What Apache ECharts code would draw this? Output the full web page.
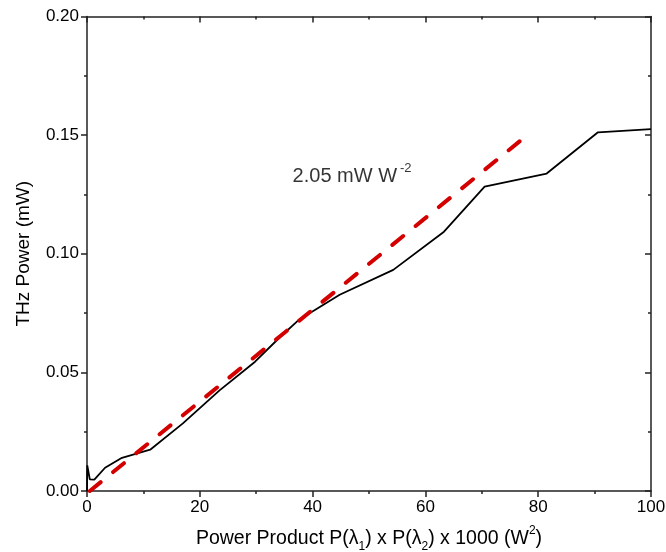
<!DOCTYPE html>
<html>
<head>
<meta charset="utf-8">
<script src="https://cdn.jsdelivr.net/npm/echarts@6/dist/echarts.min.js"></script>
<style>html,body{margin:0;padding:0;background:#fff}#c{width:666px;height:552px}</style>
</head>
<body>
<div id="c"></div>
<script>
// Measured THz power curve (x: power product x1000 W^2, y: THz power mW)
const measX = [0, 0.05, 0.5, 1.3, 3.2, 6.2, 11.2, 17.0, 23.5, 29.8, 34.2, 37.6, 44.8, 54.3, 63.3, 70.5, 81.5, 90.6, 100];
const measY = [0, 0.0108, 0.0049, 0.0048, 0.0098, 0.0140, 0.0174, 0.0285, 0.0424, 0.0545, 0.0648, 0.0722, 0.0827, 0.0932, 0.1093, 0.1283, 0.1338, 0.1512, 0.1525];
// Linear fit (dashed red)
const fitX = [0.5, 77.8];
const fitY = [0, 0.1495];
const xTicks = [0, 20, 40, 60, 80, 100];
const yTicks = [0.00, 0.05, 0.10, 0.15, 0.20];
const annotation = '2.05 mW W';
const annotationSup = '-2';
const annotationAt = [47.0, 0.1325];

const chart = echarts.init(document.getElementById('c'), null, {renderer: 'canvas'});
const font = 'Arial, "Liberation Sans", sans-serif';
const mkLine = () => ({show: true, onZero: false, lineStyle: {color: '#222', width: 1.5}});
const mkTick = (len) => ({show: true, inside: true, length: len, lineStyle: {color: '#222', width: 1.5}});
const mkMinor = (len) => ({show: true, splitNumber: 2, length: len, lineStyle: {color: '#222', width: 1.5}});

function xAx(pos, labels) {
  return {
    type: 'value', min: xTicks[0], max: xTicks[xTicks.length - 1], interval: 20,
    position: pos, show: true,
    axisLine: mkLine(), axisTick: mkTick(labels ? -6 : 6), minorTick: mkMinor(labels ? -3 : 3),
    splitLine: {show: false},
    axisLabel: labels ? {show: true, color: '#000', fontSize: 17, fontFamily: font, margin: 8} : {show: false}
  };
}
function yAx(pos, labels) {
  return {
    type: 'value', min: yTicks[0], max: yTicks[yTicks.length - 1], interval: 0.05,
    position: pos, show: true,
    axisLine: mkLine(), axisTick: mkTick(labels ? -6 : 6), minorTick: mkMinor(labels ? -3 : 3),
    splitLine: {show: false},
    axisLabel: labels ? {show: true, color: '#000', fontSize: 17, fontFamily: font, margin: 8,
      formatter: v => v.toFixed(2)} : {show: false}
  };
}

const xb = xAx('bottom', true);
Object.assign(xb, {
  name: '{n|Power Product P(λ}{s|1}{n|) x P(λ}{s|2}{n|) x 1000 (W}{p|2}{n|)}',
  nameLocation: 'middle', nameGap: 36,
  nameTextStyle: {
    rich: {
      n: {fontSize: 19.5, fontFamily: font, color: '#000', lineHeight: 24, verticalAlign: 'middle'},
      s: {fontSize: 12, fontFamily: font, color: '#000', lineHeight: 24, verticalAlign: 'bottom', padding: [0, 0, -2, 0]},
      p: {fontSize: 12, fontFamily: font, color: '#000', lineHeight: 24, verticalAlign: 'top', padding: [-2, 0, 0, 0]}
    }
  }
});
const yl = yAx('left', true);
Object.assign(yl, {
  name: 'THz Power (mW)', nameLocation: 'middle', nameGap: 54, nameRotate: 90,
  nameTextStyle: {fontSize: 19, fontFamily: font, color: '#000'}
});

chart.setOption({
  animation: false,
  backgroundColor: '#fff',
  grid: {left: 87, right: 15, top: 16.5, bottom: 61, containLabel: false, outerBoundsMode: 'none'},
  xAxis: [xb, xAx('top', false)],
  yAxis: [yl, yAx('right', false)],
  series: [{
    type: 'line', xAxisIndex: 0, yAxisIndex: 0,
    data: measX.map((x, i) => [x, measY[i]]),
    symbol: 'none', lineStyle: {color: '#000', width: 1.8}, z: 3
  }, {
    type: 'line', xAxisIndex: 0, yAxisIndex: 0,
    data: fitX.map((x, i) => [x, fitY[i]]),
    symbol: 'none',
    lineStyle: {color: '#d40000', width: 4, type: [14, 16], cap: 'round'}, z: 4
  }, {
    type: 'scatter', xAxisIndex: 1, yAxisIndex: 1,
    data: [annotationAt],
    symbol: 'circle', symbolSize: 0, silent: true,
    label: {
      show: true, position: 'inside', color: '#000',
      formatter: '{a|' + annotation + '}{b|' + annotationSup + '}',
      rich: {
        a: {fontSize: 20, fontFamily: font, color: '#000', lineHeight: 26, verticalAlign: 'middle'},
        b: {fontSize: 13, fontFamily: font, color: '#000', lineHeight: 26, verticalAlign: 'top', padding: [-2, 0, 0, 3]}
      }
    }
  }]
});
</script>
</body>
</html>
